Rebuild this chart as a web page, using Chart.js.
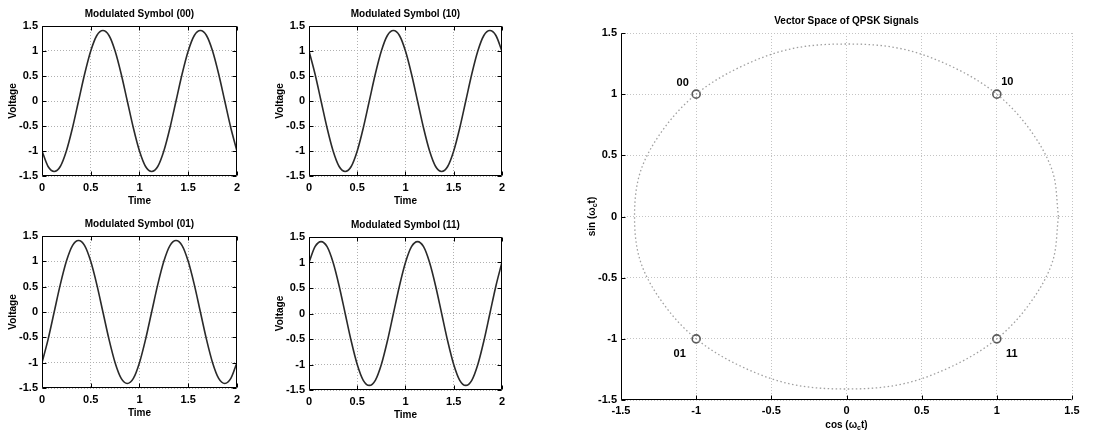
<!DOCTYPE html>
<html>
<head>
<meta charset="utf-8">
<script src="https://cdn.jsdelivr.net/npm/chart.js@4.4.1/dist/chart.umd.min.js"></script>
<style>
  body { margin: 0; background: #fff; }
  #wrap { position: relative; width: 1098px; height: 435px; overflow: hidden; }
  #wrap canvas { position: absolute; }
</style>
</head>
<body>
<div id="wrap">
  <canvas id="sym00" width="245" height="210" style="left:0px;top:0px"></canvas>
  <canvas id="sym10" width="240" height="210" style="left:270px;top:0px"></canvas>
  <canvas id="sym01" width="245" height="212" style="left:0px;top:210px"></canvas>
  <canvas id="sym11" width="240" height="213" style="left:270px;top:211px"></canvas>
  <canvas id="space" width="538" height="435" style="left:560px;top:0px"></canvas>
</div>
<script>
// time samples (s) and the voltage
const timeAxis = [0, 0.0625, 0.125, 0.1875, 0.25, 0.3125, 0.375, 0.4375, 0.5, 0.5625, 0.625, 0.6875, 0.75, 0.8125, 0.875, 0.9375,
                  1, 1.0625, 1.125, 1.1875, 1.25, 1.3125, 1.375, 1.4375, 1.5, 1.5625, 1.625, 1.6875, 1.75, 1.8125, 1.875, 1.9375, 2];
const sym00 = [-1, -1.31, -1.41, -1.31, -1, -0.54, 0, 0.54, 1, 1.31, 1.41, 1.31, 1, 0.54, 0, -0.54,
               -1, -1.31, -1.41, -1.31, -1, -0.54, 0, 0.54, 1, 1.31, 1.41, 1.31, 1, 0.54, 0, -0.54, -1];
const sym10 = [1, 0.54, 0, -0.54, -1, -1.31, -1.41, -1.31, -1, -0.54, 0, 0.54, 1, 1.31, 1.41, 1.31,
               1, 0.54, 0, -0.54, -1, -1.31, -1.41, -1.31, -1, -0.54, 0, 0.54, 1, 1.31, 1.41, 1.31, 1];
const sym01 = [-1, -0.54, 0, 0.54, 1, 1.31, 1.41, 1.31, 1, 0.54, 0, -0.54, -1, -1.31, -1.41, -1.31,
               -1, -0.54, 0, 0.54, 1, 1.31, 1.41, 1.31, 1, 0.54, 0, -0.54, -1, -1.31, -1.41, -1.31, -1];
const sym11 = [1, 1.31, 1.41, 1.31, 1, 0.54, 0, -0.54, -1, -1.31, -1.41, -1.31, -1, -0.54, 0, 0.54,
               1, 1.31, 1.41, 1.31, 1, 0.54, 0, -0.54, -1, -1.31, -1.41, -1.31, -1, -0.54, 0, 0.54, 1];

const timeTicks = [0, 0.5, 1, 1.5, 2];
const voltTicks = [-1.5, -1, -0.5, 0, 0.5, 1, 1.5];
const spaceTicks = [-1.5, -1, -0.5, 0, 0.5, 1, 1.5];

// dotted circle of radius ~1.41 and the four constellation points
const circleX = [1.41, 1.37, 1.22, 1, 0.71, 0.37, 0, -0.37, -0.71, -1, -1.22, -1.37, -1.41, -1.37, -1.22, -1, -0.71, -0.37, 0, 0.37, 0.71, 1, 1.22, 1.37, 1.41];
const circleY = [0, 0.37, 0.71, 1, 1.22, 1.37, 1.41, 1.37, 1.22, 1, 0.71, 0.37, 0, -0.37, -0.71, -1, -1.22, -1.37, -1.41, -1.37, -1.22, -1, -0.71, -0.37, 0];
const symX = [-1, 1, -1, 1];
const symY = [1, 1, -1, -1];
const symNames = ['00', '10', '01', '11'];
const nameX = [-1.09, 1.07, -1.11, 1.1];
const nameY = [1.09, 1.1, -1.12, -1.12];

Chart.defaults.font.family = 'Arial, "Liberation Sans", sans-serif';
Chart.defaults.color = '#000';

const plainTick = v => String(v);

// black frame + small inward ticks like matlab, title centred on the plot box
function makeFrame(box, title) {
  return {
    id: 'frame',
    afterDatasetsDraw(chart) {
      const { ctx, chartArea: a } = chart;
      const xs = chart.scales.x, ys = chart.scales.y;
      const l = Math.round(a.left) + 0.5, r = Math.round(a.right) - 0.5;
      const t = Math.round(a.top) + 0.5, b = Math.round(a.bottom) - 0.5;
      ctx.save();
      ctx.strokeStyle = '#000';
      ctx.lineWidth = 1;
      ctx.setLineDash([]);
      ctx.beginPath();
      ctx.moveTo(l, t); ctx.lineTo(l, b); ctx.lineTo(r, b);
      if (box) { ctx.lineTo(r, t); ctx.lineTo(l, t); }
      xs.ticks.forEach((tk, i) => {
        const px = Math.round(xs.getPixelForTick(i)) + 0.5;
        ctx.moveTo(px, b); ctx.lineTo(px, b - 4);
        if (box) { ctx.moveTo(px, t); ctx.lineTo(px, t + 4); }
      });
      ys.ticks.forEach((tk, i) => {
        const py = Math.round(ys.getPixelForTick(i)) + 0.5;
        ctx.moveTo(l, py); ctx.lineTo(l + 4, py);
        if (box) { ctx.moveTo(r, py); ctx.lineTo(r - 4, py); }
      });
      ctx.stroke();
      ctx.fillStyle = '#000';
      ctx.font = 'bold 10px Arial, "Liberation Sans", sans-serif';
      ctx.textAlign = 'center';
      ctx.textBaseline = 'middle';
      ctx.fillText(title, (a.left + a.right) / 2, a.top - 12);
      ctx.restore();
    }
  };
}

function symbolChart(id, title, values, yAxisW, padRight) {
  const pts = timeAxis.map((t, i) => ({ x: t, y: values[i] }));
  return new Chart(document.getElementById(id), {
    type: 'line',
    data: {
      datasets: [{
        data: pts,
        borderColor: '#2a2a2a',
        borderWidth: 1.6,
        pointRadius: 0,
        cubicInterpolationMode: 'monotone'
      }]
    },
    options: {
      responsive: false,
      animation: false,
      layout: { padding: { top: 26, right: padRight } },
      plugins: {
        legend: { display: false },
        tooltip: { enabled: false }
      },
      scales: {
        x: {
          type: 'linear', min: 0, max: 2,
          afterBuildTicks: s => { s.ticks = timeTicks.map(v => ({ value: v })); },
          afterFit: s => { s.height = 34; },
          grid: { color: '#b0b0b0', drawTicks: false },
          border: { display: false, dash: [1, 2] },
          ticks: { padding: 5, maxRotation: 0, font: { size: 11, weight: 'bold' }, callback: plainTick },
          title: { display: true, text: 'Time', font: { size: 10, weight: 'bold' }, padding: { top: 0, bottom: 3 } }
        },
        y: {
          min: -1.5, max: 1.5,
          afterBuildTicks: s => { s.ticks = voltTicks.map(v => ({ value: v })); },
          afterFit: s => { s.width = yAxisW; },
          grid: { color: '#b0b0b0', drawTicks: false },
          border: { display: false, dash: [1, 2] },
          ticks: { padding: 4, font: { size: 11, weight: 'bold' }, callback: plainTick },
          title: { display: true, text: 'Voltage', font: { size: 10, weight: 'bold' }, padding: { top: yAxisW - 35, bottom: 0 } }
        }
      }
    },
    plugins: [makeFrame(true, title)]
  });
}

symbolChart('sym00', 'Modulated Symbol (00)', sym00, 42, 8);
symbolChart('sym10', 'Modulated Symbol (10)', sym10, 39, 7);
symbolChart('sym01', 'Modulated Symbol (01)', sym01, 42, 8);
symbolChart('sym11', 'Modulated Symbol (11)', sym11, 39, 8);

// point names and the axis labels with the subscript c
const namesPlugin = {
  id: 'names',
  afterDatasetsDraw(chart) {
    const { ctx, scales: { x, y } } = chart;
    ctx.save();
    ctx.fillStyle = '#000';
    ctx.font = 'bold 11px Arial, "Liberation Sans", sans-serif';
    ctx.textAlign = 'center';
    ctx.textBaseline = 'middle';
    symNames.forEach((n, i) => ctx.fillText(n, x.getPixelForValue(nameX[i]), y.getPixelForValue(nameY[i])));
    ctx.restore();
  },
  afterDraw(chart) {
    const { ctx, chartArea: a, scales: { x, y } } = chart;
    const big = 'bold 10px Arial, "Liberation Sans", sans-serif';
    const small = 'bold 7px Arial, "Liberation Sans", sans-serif';
    const drawLabel = (head, tail) => {
      ctx.font = big; const w1 = ctx.measureText(head).width; const w3 = ctx.measureText(tail).width;
      ctx.font = small; const w2 = ctx.measureText('c').width;
      let cx = -(w1 + w2 + w3) / 2;
      ctx.font = big; ctx.fillText(head, cx, 0); cx += w1;
      ctx.font = small; ctx.fillText('c', cx, 3); cx += w2;
      ctx.font = big; ctx.fillText(tail, cx, 0);
    };
    ctx.save();
    ctx.fillStyle = '#000';
    ctx.textAlign = 'left';
    ctx.textBaseline = 'middle';
    ctx.save();
    ctx.translate((a.left + a.right) / 2, x.bottom - 10);
    drawLabel('cos (\u03c9', 't)');
    ctx.restore();
    ctx.save();
    ctx.translate(y.left + 32, (a.top + a.bottom) / 2);
    ctx.rotate(-Math.PI / 2);
    drawLabel('sin (\u03c9', 't)');
    ctx.restore();
    ctx.restore();
  }
};

new Chart(document.getElementById('space'), {
  type: 'scatter',
  data: {
    datasets: [
      {
        data: circleX.map((v, i) => ({ x: v, y: circleY[i] })),
        showLine: true,
        borderColor: '#a0a0a0',
        borderWidth: 1.3,
        borderDash: [1.5, 2.5],
        pointRadius: 0,
        tension: 0.34
      },
      {
        data: symX.map((v, i) => ({ x: v, y: symY[i] })),
        showLine: false,
        pointRadius: 4,
        pointBorderWidth: 1.6,
        pointBorderColor: '#595959',
        pointBackgroundColor: 'rgba(0,0,0,0)'
      }
    ]
  },
  options: {
    responsive: false,
    animation: false,
    layout: { padding: { top: 33, right: 26 } },
    plugins: {
      legend: { display: false },
      tooltip: { enabled: false }
    },
    scales: {
      x: {
        type: 'linear', min: -1.5, max: 1.5,
        afterBuildTicks: s => { s.ticks = spaceTicks.map(v => ({ value: v })); },
        afterFit: s => { s.height = 35; },
        grid: { color: '#c4c4c4', drawTicks: false },
        border: { display: false, dash: [1, 2] },
        ticks: { padding: 4, maxRotation: 0, font: { size: 11, weight: 'bold' }, callback: plainTick }
      },
      y: {
        min: -1.5, max: 1.5,
        afterBuildTicks: s => { s.ticks = spaceTicks.map(v => ({ value: v })); },
        afterFit: s => { s.width = 61; },
        grid: { color: '#c4c4c4', drawTicks: false },
        border: { display: false, dash: [1, 2] },
        ticks: { padding: 4, font: { size: 11, weight: 'bold' }, callback: plainTick }
      }
    }
  },
  plugins: [makeFrame(false, 'Vector Space of QPSK Signals'), namesPlugin]
});
</script>
</body>
</html>
